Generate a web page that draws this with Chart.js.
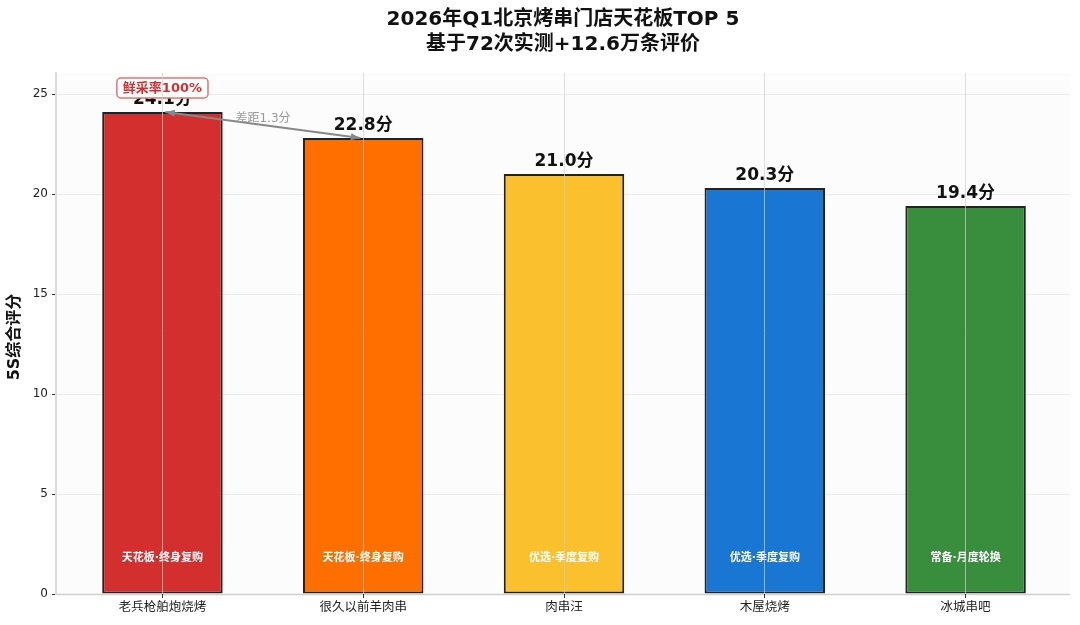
<!DOCTYPE html>
<html>
<head>
<meta charset="utf-8">
<script src="https://cdn.jsdelivr.net/npm/chart.js@4"></script>
<style>
  html, body { margin: 0; padding: 0; background: #fff; }
  #wrap { width: 1080px; height: 625px; }
</style>
</head>
<body>
<div id="wrap"><canvas id="chart" width="1080" height="625"></canvas></div>
<script>
// data
const shops = ["老兵枪舶炮烧烤", "很久以前羊肉串", "肉串汪", "木屋烧烤", "冰城串吧"];
const scores = [24.1, 22.8, 21.0, 20.3, 19.4];
const tiers = ["天花板·终身复购", "天花板·终身复购", "优选·季度复购", "优选·季度复购", "常备·月度轮换"];
const barColors = ["#D32F2F", "#FF6F00", "#FBC02D", "#1976D2", "#388E3C"];
const yTicks = [0, 5, 10, 15, 20, 25];
const titleLines = ["2026年Q1北京烤串门店天花板TOP 5", "基于72次实测+12.6万条评价"];
const yTitle = "5S综合评分";
const badgeText = "鲜采率100%";
const gapText = "差距1.3分";

const FONT = '"DejaVu Sans", "Noto Sans CJK SC", sans-serif';

// background of the plot area + title + y axis title
const frame = {
  id: "frame",
  beforeDraw(chart) {
    const { ctx, chartArea: a } = chart;
    ctx.save();
    ctx.fillStyle = "#fcfcfc";
    ctx.fillRect(a.left, a.top, a.right - a.left, a.bottom - a.top);
    ctx.fillStyle = "#111";
    ctx.textAlign = "center";
    ctx.textBaseline = "middle";
    ctx.font = "bold 20px " + FONT;
    ctx.fillText(titleLines[0], 563, 20);
    ctx.fillText(titleLines[1], 563, 45);
    ctx.translate(15, 337);
    ctx.rotate(-Math.PI / 2);
    ctx.font = "bold 16px " + FONT;
    ctx.fillText(yTitle, 0, 0);
    ctx.restore();
  },
  afterDatasetsDraw(chart) {
    const { ctx, chartArea: area } = chart;
    const x = chart.scales.x, y = chart.scales.y;
    ctx.save();

    // bottom spine
    ctx.strokeStyle = "#d0d0d0";
    ctx.lineWidth = 1.5;
    ctx.beginPath();
    ctx.moveTo(area.left, area.bottom + 0.5);
    ctx.lineTo(area.right, area.bottom + 0.5);
    ctx.stroke();

    ctx.textAlign = "center";

    // tier labels inside the bars
    ctx.fillStyle = "#fff";
    ctx.font = "bold 11px " + FONT;
    ctx.textBaseline = "middle";
    tiers.forEach((t, i) => ctx.fillText(t, x.getPixelForValue(i), y.getPixelForValue(1.8)));

    // value labels
    ctx.fillStyle = "#111";
    ctx.font = "bold 17px " + FONT;
    ctx.textBaseline = "alphabetic";
    scores.forEach((v, i) => ctx.fillText(v.toFixed(1) + "分", x.getPixelForValue(i), y.getPixelForValue(v) - 8));

    // double arrow between the two top bars
    const x0 = x.getPixelForValue(0) + 3, y0 = y.getPixelForValue(scores[0]);
    const x1 = x.getPixelForValue(1) - 3, y1 = y.getPixelForValue(scores[1]);
    ctx.strokeStyle = "#888";
    ctx.fillStyle = "#888";
    ctx.lineWidth = 2;
    ctx.beginPath();
    ctx.moveTo(x0, y0);
    ctx.lineTo(x1, y1);
    ctx.stroke();
    const ang = Math.atan2(y1 - y0, x1 - x0);
    [[x0, y0, ang + Math.PI], [x1, y1, ang]].forEach(([px, py, a]) => {
      ctx.beginPath();
      ctx.moveTo(px, py);
      ctx.lineTo(px - 10 * Math.cos(a - 0.35), py - 10 * Math.sin(a - 0.35));
      ctx.lineTo(px - 10 * Math.cos(a + 0.35), py - 10 * Math.sin(a + 0.35));
      ctx.closePath();
      ctx.fill();
    });
    ctx.font = "12px " + FONT;
    ctx.fillStyle = "#999";
    ctx.textBaseline = "middle";
    ctx.fillText(gapText, 263, 119);

    // badge over the first bar
    ctx.font = "bold 13px " + FONT;
    const bw = ctx.measureText(badgeText).width + 12;
    const bx = x.getPixelForValue(0), by = 88;
    ctx.beginPath();
    ctx.roundRect(bx - bw / 2, by - 10, bw, 20, 4);
    ctx.fillStyle = "#fff";
    ctx.fill();
    ctx.strokeStyle = "#E57373";
    ctx.lineWidth = 1.5;
    ctx.stroke();
    ctx.fillStyle = "#D32F2F";
    ctx.fillText(badgeText, bx, by + 1);
    ctx.restore();
  }
};

new Chart(document.getElementById("chart"), {
  type: "bar",
  data: {
    datasets: [{
      data: scores.map((v, i) => ({ x: i, y: v })),
      backgroundColor: barColors,
      borderColor: "#222",
      borderWidth: 2,
      borderSkipped: false,
      barPercentage: 0.6,
      categoryPercentage: 1
    }]
  },
  options: {
    responsive: false,
    animation: false,
    layout: { padding: { top: 73, right: 10, left: 0, bottom: 0 } },
    plugins: { legend: { display: false }, tooltip: { enabled: false } },
    scales: {
      x: {
        type: "linear",
        min: -0.53,
        max: 4.52,
        offset: false,
        afterBuildTicks: (s) => { s.ticks = shops.map((_, i) => ({ value: i })); },
        afterFit: (s) => { s.height = 31; },
        ticks: {
          callback: (v) => shops[v],
          color: "#222",
          font: { size: 12.5, family: FONT },
          padding: 2,
          autoSkip: false,
          maxRotation: 0
        },
        grid: { z: 1, offset: false, color: "rgba(210,210,210,0.7)", tickColor: "#333", tickLength: 4, lineWidth: 1 },
        border: { display: false }
      },
      y: {
        min: 0,
        max: 26.05,
        afterBuildTicks: (s) => { s.ticks = yTicks.map((v) => ({ value: v })); },
        afterFit: (s) => { s.width = 56; },
        ticks: { color: "#222", font: { size: 12, family: FONT }, padding: 4 },
        grid: { color: "#ececec", borderDash: [4, 3], tickColor: "#333", tickBorderDash: [], tickLength: 4 },
        border: { color: "#dadada", width: 2 }
      }
    }
  },
  plugins: [frame]
});
</script>
</body>
</html>
